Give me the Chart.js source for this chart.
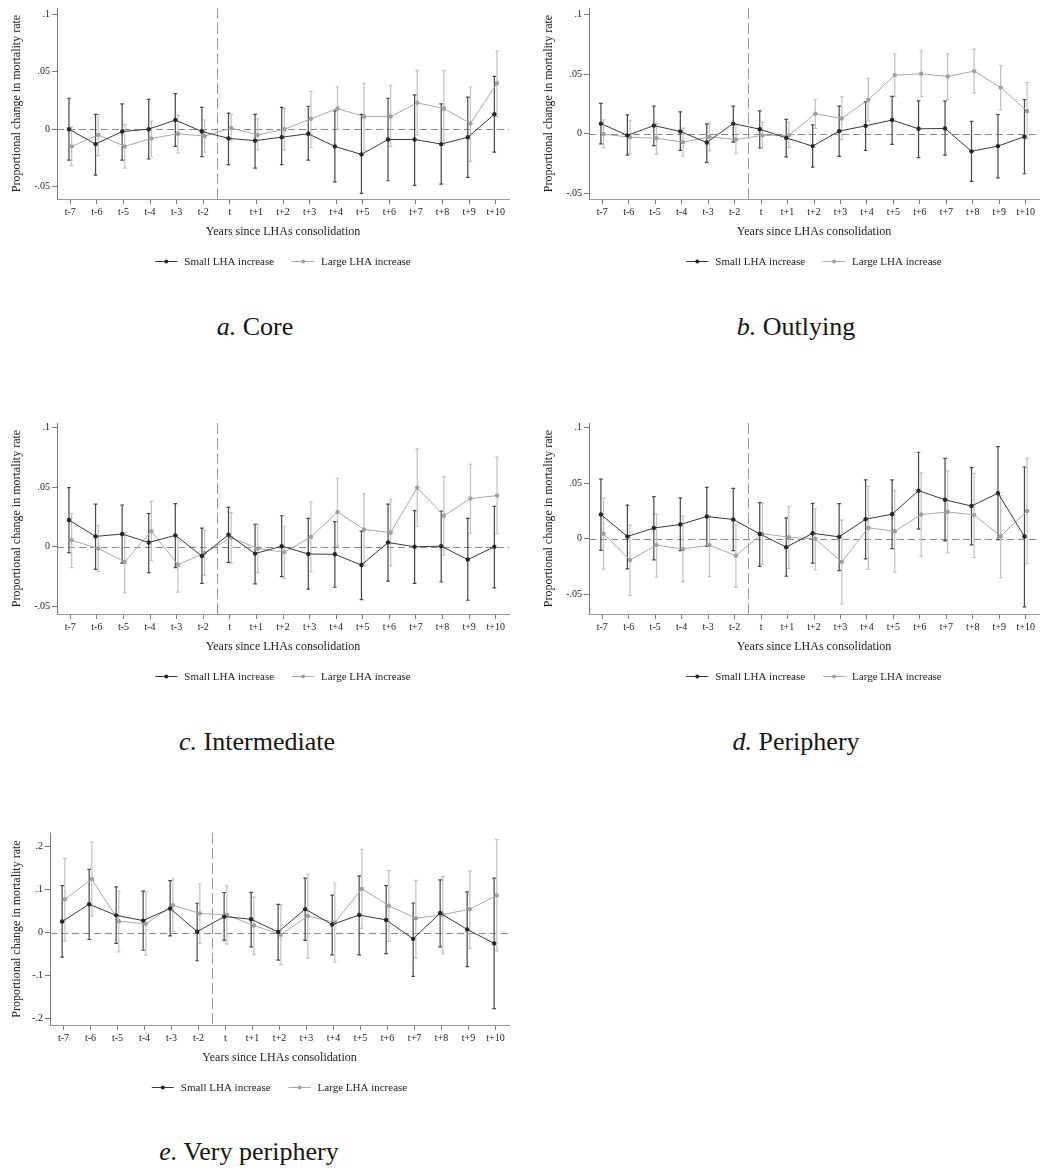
<!DOCTYPE html>
<html>
<head>
<meta charset="utf-8">
<title>Mortality event study by area type</title>
<script src="https://cdn.jsdelivr.net/npm/chart.js@4.4.1/dist/chart.umd.min.js"></script>
<style>
  html, body { margin: 0; padding: 0; background: #fff; }
  body { position: relative; width: 1043px; height: 1171px; overflow: hidden; font-family: "Liberation Serif", "DejaVu Serif", serif; }
  canvas { position: absolute; }
  .cap { position: absolute; transform: translate(-50%, -50%); white-space: nowrap; font-family: "Liberation Serif", serif; font-size: 26px; color: #151515; }
</style>
</head>
<body>
<canvas id="pa" width="520" height="280" style="left:0px;top:0px"></canvas>
<canvas id="pb" width="511" height="280" style="left:532px;top:0px"></canvas>
<canvas id="pc" width="520" height="280" style="left:0px;top:415px"></canvas>
<canvas id="pd" width="511" height="280" style="left:532px;top:415px"></canvas>
<canvas id="pe" width="520" height="280" style="left:0px;top:825px"></canvas>

<div class="cap" style="left:255px;top:327px"><i>a.</i> Core</div>
<div class="cap" style="left:796px;top:327px"><i>b.</i> Outlying</div>
<div class="cap" style="left:257px;top:742px"><i>c.</i> Intermediate</div>
<div class="cap" style="left:796px;top:742px"><i>d.</i> Periphery</div>
<div class="cap" style="left:249px;top:1152px"><i>e.</i> Very periphery</div>

<script>
// Event-time labels (years relative to LHA consolidation; t-1 is the omitted reference year)
const periods = ['t-7','t-6','t-5','t-4','t-3','t-2','t','t+1','t+2','t+3','t+4','t+5','t+6','t+7','t+8','t+9','t+10'];
const consolidationBreak = 5.5;   // between t-2 and t

const seriesNames = ['Small LHA increase', 'Large LHA increase'];

// y-axis tick values
const ticksNarrow = [-0.05, 0, 0.05, 0.1];
const ticksWide   = [-0.2, -0.1, 0, 0.1, 0.2];

// a. Core
const coreSmall   = [0.000, -0.013, -0.002, 0.000, 0.008, -0.002, -0.008, -0.010, -0.007, -0.004, -0.015, -0.022, -0.009, -0.009, -0.013, -0.007, 0.013];
const coreSmallLo = [-0.027, -0.040, -0.027, -0.026, -0.015, -0.024, -0.031, -0.034, -0.031, -0.027, -0.046, -0.056, -0.045, -0.049, -0.048, -0.042, -0.020];
const coreSmallHi = [0.027, 0.013, 0.022, 0.026, 0.031, 0.019, 0.014, 0.013, 0.019, 0.020, 0.016, 0.013, 0.027, 0.030, 0.022, 0.028, 0.046];
const coreLarge   = [-0.015, -0.005, -0.015, -0.008, -0.004, -0.006, 0.001, -0.005, 0.000, 0.009, 0.018, 0.011, 0.011, 0.023, 0.018, 0.005, 0.040];
const coreLargeLo = [-0.032, -0.023, -0.034, -0.024, -0.021, -0.020, -0.010, -0.018, -0.018, -0.016, 0.000, -0.019, -0.015, -0.005, -0.014, -0.028, 0.011];
const coreLargeHi = [0.002, 0.013, 0.004, 0.007, 0.012, 0.008, 0.013, 0.009, 0.018, 0.033, 0.037, 0.040, 0.038, 0.051, 0.051, 0.037, 0.068];

// b. Outlying
const outSmall   = [0.0085, -0.0014, 0.0068, 0.0019, -0.0074, 0.0085, 0.0038, -0.0035, -0.0104, 0.0022, 0.0066, 0.0115, 0.0041, 0.0044, -0.0148, -0.0104, -0.0025];
const outSmallLo = [-0.0085, -0.018, -0.010, -0.014, -0.024, -0.007, -0.012, -0.0195, -0.028, -0.019, -0.014, -0.009, -0.020, -0.018, -0.040, -0.037, -0.0336];
const outSmallHi = [0.0254, 0.0158, 0.0232, 0.0183, 0.0082, 0.0232, 0.0191, 0.012, 0.0074, 0.0232, 0.027, 0.0314, 0.0276, 0.0273, 0.0104, 0.0161, 0.0287];
const outLarge   = [-0.0003, -0.003, -0.0038, -0.0071, -0.0027, -0.0049, -0.0014, -0.0014, 0.0167, 0.0128, 0.0284, 0.0492, 0.0503, 0.0481, 0.0525, 0.0388, 0.0191];
const outLargeLo = [-0.012, -0.0167, -0.0172, -0.0189, -0.0145, -0.0164, -0.012, -0.0117, 0.0044, -0.0049, 0.0107, 0.0314, 0.0309, 0.0287, 0.0342, 0.020, -0.0044];
const outLargeHi = [0.0117, 0.0107, 0.0082, 0.0046, 0.009, 0.0074, 0.0096, 0.0096, 0.0287, 0.0309, 0.0464, 0.067, 0.0697, 0.067, 0.071, 0.0574, 0.0429];

// c. Intermediate
const intSmall   = [0.0224, 0.0087, 0.0107, 0.0036, 0.0096, -0.0077, 0.0101, -0.0057, 0.0005, -0.006, -0.0063, -0.0153, 0.0036, 0.000, 0.0005, -0.0107, 0.000];
const intSmallLo = [-0.0049, -0.0189, -0.0137, -0.0216, -0.0175, -0.0306, -0.013, -0.031, -0.025, -0.0355, -0.0339, -0.0443, -0.0287, -0.0306, -0.0295, -0.0448, -0.0344];
const intSmallHi = [0.0495, 0.0358, 0.035, 0.0279, 0.0361, 0.0156, 0.033, 0.0189, 0.026, 0.0238, 0.021, 0.0131, 0.0358, 0.0303, 0.030, 0.0238, 0.0339];
const intLarge   = [0.0055, -0.0014, -0.0126, 0.0131, -0.015, -0.0052, 0.0077, -0.0014, -0.0046, 0.0082, 0.0292, 0.0145, 0.012, 0.0495, 0.026, 0.0404, 0.0429];
const intLargeLo = [-0.0175, -0.0208, -0.0385, -0.0115, -0.038, -0.0238, -0.0134, -0.0216, -0.0265, -0.021, 0.0008, -0.0161, -0.0158, 0.0172, -0.0068, 0.0115, 0.0109];
const intLargeHi = [0.0279, 0.0178, 0.012, 0.038, 0.0074, 0.0139, 0.0287, 0.0189, 0.0172, 0.0377, 0.0574, 0.0443, 0.0396, 0.082, 0.0587, 0.0691, 0.0751];

// d. Periphery
const perSmall   = [0.0218, 0.0021, 0.0097, 0.0129, 0.020, 0.0174, 0.0044, -0.0074, 0.005, 0.0018, 0.0176, 0.0221, 0.0432, 0.035, 0.0294, 0.0409, 0.0021];
const perSmallLo = [-0.0103, -0.0268, -0.0188, -0.0106, -0.0068, -0.0106, -0.0247, -0.0335, -0.0218, -0.0285, -0.018, -0.0088, 0.0088, -0.0018, -0.0053, -0.0006, -0.0609];
const perSmallHi = [0.0535, 0.0303, 0.0379, 0.0368, 0.0462, 0.0453, 0.0324, 0.0188, 0.0318, 0.0315, 0.0529, 0.0529, 0.0776, 0.0721, 0.0638, 0.0826, 0.0644];
const perLarge   = [0.0047, -0.019, -0.0056, -0.0091, -0.0056, -0.015, 0.0047, 0.0015, 0.000, -0.0206, 0.010, 0.0068, 0.0218, 0.0241, 0.0215, 0.0024, 0.025];
const perLargeLo = [-0.0271, -0.0509, -0.0344, -0.0385, -0.0338, -0.0435, -0.0226, -0.0265, -0.0276, -0.0582, -0.0274, -0.0297, -0.0156, -0.0126, -0.0165, -0.0347, -0.0221];
const perLargeHi = [0.0362, 0.0124, 0.0224, 0.0203, 0.0206, 0.0126, 0.0321, 0.0291, 0.0271, 0.0168, 0.0471, 0.0432, 0.0591, 0.0609, 0.0588, 0.0388, 0.0721];

// e. Very periphery
const vpSmall   = [0.0259, 0.066, 0.0403, 0.0281, 0.0563, 0.0023, 0.0373, 0.0312, 0.0015, 0.0548, 0.019, 0.041, 0.0297, -0.0144, 0.0456, 0.0076, -0.025];
const vpSmallLo = [-0.057, -0.016, -0.025, -0.041, -0.0076, -0.0654, -0.018, -0.033, -0.064, -0.018, -0.0517, -0.0517, -0.0487, -0.102, -0.033, -0.079, -0.177];
const vpSmallHi = [0.1095, 0.1475, 0.1065, 0.0966, 0.121, 0.0684, 0.0935, 0.094, 0.066, 0.127, 0.0875, 0.1323, 0.1095, 0.069, 0.123, 0.095, 0.127];
const vpLarge   = [0.0776, 0.1247, 0.0266, 0.0205, 0.0639, 0.0449, 0.041, 0.0167, -0.0046, 0.0388, 0.0236, 0.102, 0.0624, 0.0335, 0.0418, 0.0548, 0.0867];
const vpLargeLo = [-0.0198, 0.0388, -0.0449, -0.0525, 0.003, -0.025, -0.0266, -0.051, -0.0745, -0.0593, -0.0684, 0.0099, -0.0205, -0.0586, -0.0494, -0.0365, -0.0426];
const vpLargeHi = [0.173, 0.21, 0.0966, 0.095, 0.1255, 0.1133, 0.1087, 0.0829, 0.0654, 0.136, 0.1156, 0.194, 0.1445, 0.1217, 0.131, 0.1437, 0.2167];

// ---------------------------------------------------------------------------
const SERIF = '"Liberation Serif", "Times New Roman", serif';
const INK = '#222';
const AXIS = '#7a7a7a';
const STYLE_SMALL = { line: '#3a3a3a', point: '#262626', bar: '#474747', shift: -0.05 };
const STYLE_LARGE = { line: '#a9a9a9', point: '#a0a0a0', bar: '#c2c2c2', shift: 0.05 };

// ".05", "-.05", "0"
function stataNumber(v) {
  if (Math.abs(v) < 1e-12) return '0';
  const s = String(Math.abs(+v.toFixed(6))).replace(/^0/, '');
  return (v < 0 ? '-' : '') + s;
}

// Dashed reference lines: zero effect and the consolidation year
const refLines = {
  id: 'refLines',
  beforeDatasetsDraw(chart) {
    const { ctx, chartArea: a, scales: { x, y } } = chart;
    ctx.save();
    ctx.lineWidth = 1;
    ctx.strokeStyle = '#8a8a8a';
    ctx.setLineDash([7, 4]);
    const y0 = Math.round(y.getPixelForValue(0)) + 0.5;
    ctx.beginPath(); ctx.moveTo(a.left, y0); ctx.lineTo(a.right, y0); ctx.stroke();
    ctx.strokeStyle = '#9a9a9a';
    ctx.setLineDash([11, 4]);
    const xb = Math.round(x.getPixelForValue(consolidationBreak)) + 0.5;
    ctx.beginPath(); ctx.moveTo(xb, a.top); ctx.lineTo(xb, a.bottom); ctx.stroke();
    ctx.restore();
  }
};

// Confidence-interval caps drawn through the chart scales
const errorBars = {
  id: 'errorBars',
  beforeDatasetsDraw(chart) {
    const { ctx, scales: { x, y } } = chart;
    ctx.save();
    ctx.setLineDash([]);
    ctx.lineWidth = 1.2;
    for (let k = chart.data.datasets.length - 1; k >= 0; k--) {
      const ds = chart.data.datasets[k];
      ctx.strokeStyle = ds.barColor;
      ds.data.forEach((p, j) => {
        const px = x.getPixelForValue(p.x);
        const top = y.getPixelForValue(ds.hi[j]);
        const bot = y.getPixelForValue(ds.lo[j]);
        ctx.beginPath();
        ctx.moveTo(px, top); ctx.lineTo(px, bot);
        ctx.moveTo(px - 1.8, top); ctx.lineTo(px + 1.8, top);
        ctx.moveTo(px - 1.8, bot); ctx.lineTo(px + 1.8, bot);
        ctx.stroke();
      });
    }
    ctx.restore();
  }
};

// Key below the axis title: line sample with marker, then label
const seriesKey = {
  id: 'seriesKey',
  afterDraw(chart, args, opts) {
    const { ctx, chartArea: a } = chart;
    const yk = a.bottom + opts.offset;
    const sample = 22, gapText = 7, gapItem = 18;
    ctx.save();
    ctx.font = '11px ' + SERIF;
    ctx.textBaseline = 'middle';
    const items = chart.data.datasets.map(ds => ({
      label: ds.label, line: ds.borderColor, point: ds.pointBackgroundColor,
      w: ctx.measureText(ds.label).width
    }));
    let total = 0;
    items.forEach((it, i) => { total += sample + gapText + it.w + (i ? gapItem : 0); });
    let xk = (a.left + a.right) / 2 - total / 2;
    items.forEach((it, i) => {
      if (i) xk += gapItem;
      ctx.strokeStyle = it.line; ctx.lineWidth = 1;
      ctx.beginPath(); ctx.moveTo(xk, yk + 0.5); ctx.lineTo(xk + sample, yk + 0.5); ctx.stroke();
      ctx.fillStyle = it.point;
      ctx.beginPath(); ctx.arc(xk + sample / 2, yk + 0.5, 2, 0, Math.PI * 2); ctx.fill();
      xk += sample + gapText;
      ctx.fillStyle = INK;
      ctx.fillText(it.label, xk, yk + 1);
      xk += it.w;
    });
    ctx.restore();
  }
};

function series(label, vals, lo, hi, st) {
  return {
    label,
    data: vals.map((v, i) => ({ x: i + st.shift, y: v })),
    lo, hi,
    barColor: st.bar,
    borderColor: st.line,
    borderWidth: 1,
    pointRadius: 2.2,
    pointBackgroundColor: st.point,
    pointBorderWidth: 0,
    tension: 0,
    fill: false
  };
}

function panel(canvasId, small, smallLo, smallHi, large, largeLo, largeHi, yMin, yMax, yTicks, layout) {
  const canvas = document.getElementById(canvasId);
  return new Chart(canvas, {
    type: 'line',
    data: {
      datasets: [
        series(seriesNames[0], small, smallLo, smallHi, STYLE_SMALL),
        series(seriesNames[1], large, largeLo, largeHi, STYLE_LARGE)
      ]
    },
    options: {
      responsive: false,
      animation: false,
      events: [],
      layout: { padding: { left: 0, top: layout.top, right: layout.right, bottom: layout.bottom } },
      plugins: {
        legend: { display: false },
        tooltip: { enabled: false },
        seriesKey: { offset: 62 }
      },
      scales: {
        x: {
          type: 'linear',
          min: -0.5,
          max: periods.length - 0.5,
          afterBuildTicks: s => { s.ticks = periods.map((_, i) => ({ value: i })); },
          afterFit: s => { s.height = 45; },
          ticks: {
            autoSkip: false, maxRotation: 0, minRotation: 0, padding: 2,
            color: INK, font: { family: SERIF, size: 10 },
            callback: v => periods[Math.round(v)]
          },
          grid: { drawOnChartArea: false, drawTicks: true, tickLength: 5, color: AXIS },
          border: { display: true, color: '#9a9a9a', width: 1 },
          title: {
            display: true, text: 'Years since LHAs consolidation',
            color: INK, font: { family: SERIF, size: 12 }, padding: { top: 0, bottom: 5 }
          }
        },
        y: {
          type: 'linear',
          min: yMin,
          max: yMax,
          afterBuildTicks: s => { s.ticks = yTicks.map(v => ({ value: v })); },
          afterFit: s => { s.width = layout.yWidth; },
          ticks: {
            padding: 2, color: INK, font: { family: SERIF, size: 10 },
            callback: v => stataNumber(v)
          },
          grid: { drawOnChartArea: false, drawTicks: true, tickLength: 5, color: AXIS },
          border: { display: true, color: AXIS, width: 1 },
          title: {
            display: true, text: 'Proportional change in mortality rate',
            color: INK, font: { family: SERIF, size: 12 }, padding: { top: 10, bottom: 0 }
          }
        }
      }
    },
    plugins: [refLines, errorBars, seriesKey]
  });
}

const leftCol  = { top: 4, right: 11, bottom: 36, yWidth: 57 };
const rightCol = { top: 4, right: 0,  bottom: 36, yWidth: 57 };
const lastRow  = { top: 4, right: 11, bottom: 35, yWidth: 50 };

panel('pa', coreSmall, coreSmallLo, coreSmallHi, coreLarge, coreLargeLo, coreLargeHi, -0.0609, 0.1057, ticksNarrow, leftCol);
panel('pb', outSmall, outSmallLo, outSmallHi, outLarge, outLargeLo, outLargeHi, -0.0548, 0.1055, ticksNarrow, rightCol);
panel('pc', intSmall, intSmallLo, intSmallHi, intLarge, intLargeLo, intLargeHi, -0.0563, 0.1037, ticksNarrow, leftCol);
panel('pd', perSmall, perSmallLo, perSmallHi, perLarge, perLargeLo, perLargeHi, -0.0673, 0.1038, ticksNarrow, rightCol);
panel('pe', vpSmall, vpSmallLo, vpSmallHi, vpLarge, vpLargeLo, vpLargeHi, -0.215, 0.232, ticksWide, lastRow);
</script>
</body>
</html>
